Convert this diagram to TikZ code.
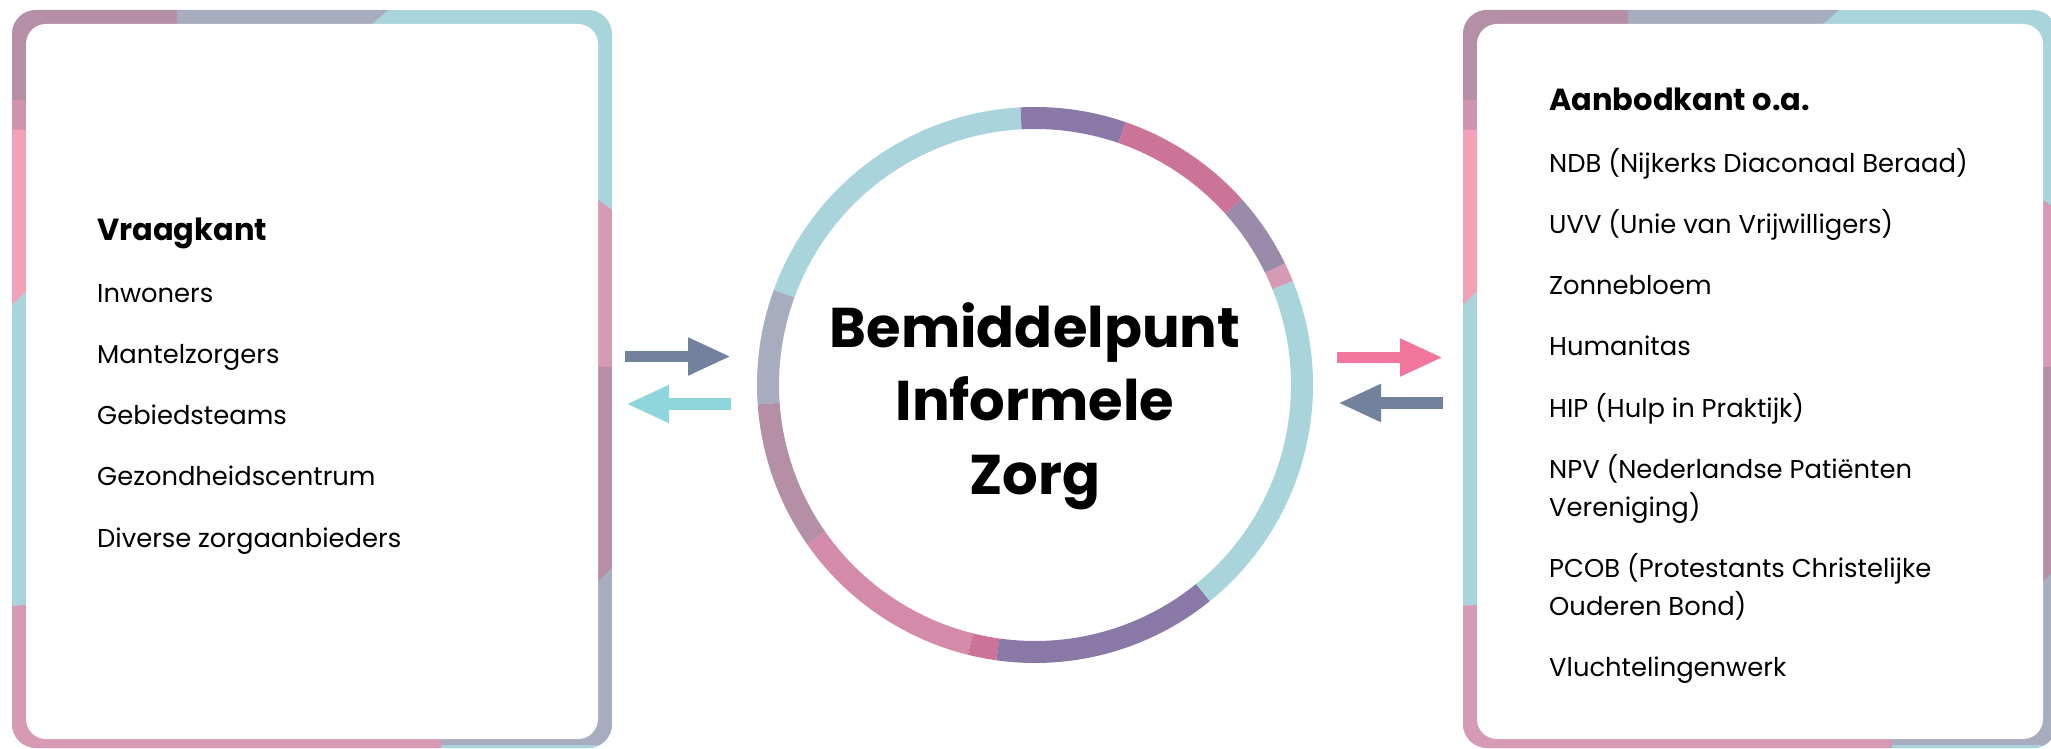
\documentclass[tikz,border=0pt]{standalone}
\usepackage{fontspec}
\setmainfont{Poppins}
\usetikzlibrary{arrows.meta}
\definecolor{mauve}{HTML}{B58FA5}
\definecolor{haze}{HTML}{A7ADBE}
\definecolor{sky}{HTML}{A9D4DB}
\definecolor{blush}{HTML}{F2A1B7}
\definecolor{rose}{HTML}{D69AB4}
\definecolor{rosedeep}{HTML}{CF93AD}
\definecolor{plum}{HTML}{8A79A6}
\definecolor{lilac}{HTML}{9A8BAB}
\definecolor{berry}{HTML}{CB7497}
\definecolor{petal}{HTML}{D59BB5}
\definecolor{ringrose}{HTML}{D38BA9}
\definecolor{arrslate}{HTML}{72819C}
\definecolor{arrcyan}{HTML}{8FD6DC}
\definecolor{arrpink}{HTML}{F2769B}
\def\ro{278pt}
\def\ri{256pt}
\tikzset{every node/.style={inner sep=0pt},
    item/.style={anchor=base west,align=left,font=\fontsize{25.8}{38.5}\selectfont},
    head/.style={item,font=\bfseries\fontsize{30.5}{38.5}\selectfont},
    hubtext/.style={align=center,font=\bfseries\fontsize{56}{73.5}\selectfont},
    fat/.style={line width=11.5pt,-{Triangle[length=43pt,width=35pt]}}}
% coloured frame round a white card, #1/#2 = outer left/right
\def\tileframe#1#2{%
  \begin{scope}
    \clip[rounded corners=24pt] (#1,0) rectangle (#2,738);
    \fill[sky] (#1,0) rectangle (#2,738);
    \fill[mauve] (#1,738) -- ({#1+165},738) -- ({#1+165},700) -- ({#1+40},700)
      -- ({#1+40},648) -- (#1,648) -- cycle;
    \fill[haze] ({#1+165},738) -- ({#1+376},738) -- ({#1+344},710) -- ({#1+165},710) -- cycle;
    \fill[rosedeep] (#1,618) rectangle ({#1+40},648);
    \fill[blush] (#1,443) -- ({#1+40},483) -- ({#1+40},618) -- (#1,618) -- cycle;
    \fill[rose] (#1,0) -- (#1,142) -- ({#1+40},145) -- ({#1+40},20) -- ({#1+429},20)
      -- ({#1+429},0) -- cycle;
    \fill[rose] ({#2-40},381) -- ({#2-40},567) -- (#2,538) -- (#2,381) -- cycle;
    \fill[mauve] ({#2-40},140) -- (#2,180) -- (#2,381) -- ({#2-40},381) -- cycle;
    \fill[haze] ({#2-40},140) -- (#2,180) -- (#2,0) -- ({#1+429},0) -- ({#1+429},20)
      -- ({#2-40},20) -- cycle;
    \fill[sky] ({#1+429},0) rectangle (#2,3);
    \fill[white,rounded corners=20pt] ({#1+14},9) rectangle ({#2-14},724);
  \end{scope}}

\begin{document}
\begin{tikzpicture}[x=1pt,y=1pt]
    \useasboundingbox (0,0) rectangle (2051,748);
    \clip (0,0) rectangle (2051,748);
    \tileframe{12}{612}
    \tileframe{1463}{2057}
    % ring
    \foreach \a/\b/\c in {93/160/sky,160/184/haze,184/215/mauve,215/256/ringrose,
        256/262/berry,262/309/plum,309/382/sky,382/386/petal,386/402/lilac,
        402/431/berry,431/453/plum}
      \fill[\c,shift={(1035,363)}] (\a:\ro) arc[start angle=\a,end angle=\b,radius=\ro]
        -- (\b:\ri) arc[start angle=\b,end angle=\a,radius=\ri] -- cycle;
    \node[hubtext] (hub) at (1035,342) {Bemiddelpunt\\Informele\\Zorg};
    % vraag
    \node[head] (vraag) at (97,507) {Vraagkant};
    \foreach \t [count=\i] in {Inwoners,Mantelzorgers,Gebiedsteams,
        Gezondheidscentrum,Diverse zorgaanbieders}
      \node[item] (v\i) at (97,{507-61.2*\i}) {\t};
    % aanbod (multi-line items sit on their last line)
    \node[head] (aanbod) at (1549,637.5) {Aanbodkant o.a.};
    \foreach \y/\t [count=\i] in {575.3/{NDB (Nijkerks Diaconaal Beraad)},
        514.2/{UVV (Unie van Vrijwilligers)},453.2/Zonnebloem,392.6/Humanitas,
        330.5/{HIP (Hulp in Praktijk)},231.3/{NPV (Nederlandse Patiënten\\Vereniging)},
        132.5/{PCOB (Protestants Christelijke\\Ouderen Bond)},71.5/Vluchtelingenwerk}
      \node[item] (a\i) at (1549,\y) {\t};
    % arrows
    \coordinate (l1) at (625,391.5);  \coordinate (l2) at (731,391.5);
    \coordinate (l3) at (731,344);    \coordinate (l4) at (626,344);
    \coordinate (r1) at (1337,390.5); \coordinate (r2) at (1443,390.5);
    \coordinate (r3) at (1443,345);   \coordinate (r4) at (1338,345);
    \draw[fat,arrslate] (l1) -- (l2);
    \draw[fat,arrcyan] (l3) -- (l4);
    \draw[fat,arrpink] (r1) -- (r2);
    \draw[fat,arrslate] (r3) -- (r4);
\end{tikzpicture}
\end{document}
